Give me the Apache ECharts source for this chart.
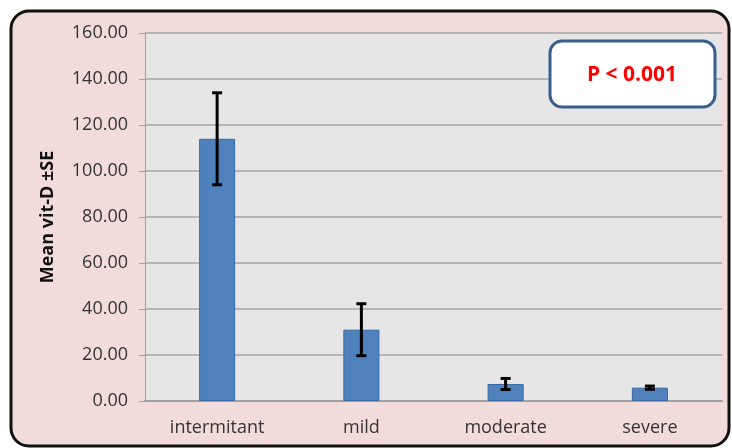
<!DOCTYPE html>
<html><head><meta charset="utf-8">
<script src="https://cdn.jsdelivr.net/npm/echarts@6/dist/echarts.min.js"></script>
<style>html,body{margin:0;padding:0;background:#fff}#c{width:732px;height:448px}</style>
</head><body><div id="c"></div>
<script>
var categories = ['intermitant', 'mild', 'moderate', 'severe'];
var means = [114.0, 31.0, 7.4, 5.8];
var se = [20.0, 11.3, 2.4, 0.7];
var yTicks = [0, 20, 40, 60, 80, 100, 120, 140, 160];
var yTitle = 'Mean vit-D \u00B1SE';
var pText = 'P < 0.001';

var chart = echarts.init(document.getElementById('c'), null, {renderer: 'canvas'});
var errData = means.map(function (m, i) { return [i, m - se[i], m + se[i]]; });
var font = 'Open Sans';
chart.setOption({
  animation: false,
  backgroundColor: '#ffffff',
  graphic: [
    {type: 'rect', z: -10, shape: {x: 11, y: 11, width: 718, height: 435, r: 18},
     style: {fill: '#f2dcdb', stroke: '#111', lineWidth: 3}},
    {type: 'rect', z: 100, shape: {x: 550, y: 41, width: 165, height: 66, r: 12},
     style: {fill: '#ffffff', stroke: '#3b5f8c', lineWidth: 3}},
    {type: 'text', z: 101, x: 632, y: 75,
     style: {text: pText, fill: '#ff0000', font: 'bold 21px "Open Sans"', textAlign: 'center', textVerticalAlign: 'middle'}}
  ],
  grid: {left: 145, right: 10, top: 33, bottom: 47, show: true, backgroundColor: '#e6e6e6', borderWidth: 0},
  xAxis: {
    type: 'category', data: categories,
    axisLine: {lineStyle: {color: '#a0a0a0', width: 2}},
    axisTick: {show: false},
    axisLabel: {color: '#333', fontFamily: font, fontSize: 18, margin: 18}
  },
  yAxis: {
    type: 'value', min: 0, max: 160, interval: 20,
    name: yTitle, nameLocation: 'middle', nameGap: 88, nameRotate: 90,
    nameTextStyle: {fontFamily: font, fontWeight: 'bold', fontSize: 18, color: '#111'},
    axisLine: {show: true, lineStyle: {color: '#a0a0a0', width: 1}},
    axisTick: {show: true, inside: false, length: 6, lineStyle: {color: '#a0a0a0'}},
    splitLine: {lineStyle: {color: '#a6a6a6', width: 1.5}},
    axisLabel: {color: '#333', fontFamily: font, fontSize: 18, margin: 17,
      formatter: function (v) { return v.toFixed(2); }}
  },
  series: [
    {type: 'bar', data: means, barWidth: '25%',
     itemStyle: {color: '#4f81bd', borderColor: '#3a6aa6', borderWidth: 1}},
    {type: 'custom', data: errData, z: 10,
     renderItem: function (params, api) {
       var x = api.value(0);
       var lo = api.coord([x, api.value(1)]);
       var hi = api.coord([x, api.value(2)]);
       var cw = 5;
       var st = {stroke: '#000', lineWidth: 3};
       return {type: 'group', children: [
         {type: 'line', shape: {x1: lo[0], y1: lo[1], x2: hi[0], y2: hi[1]}, style: st},
         {type: 'line', shape: {x1: lo[0] - cw, y1: lo[1], x2: lo[0] + cw, y2: lo[1]}, style: st},
         {type: 'line', shape: {x1: hi[0] - cw, y1: hi[1], x2: hi[0] + cw, y2: hi[1]}, style: st}
       ]};
     }}
  ]
});
</script></body></html>
